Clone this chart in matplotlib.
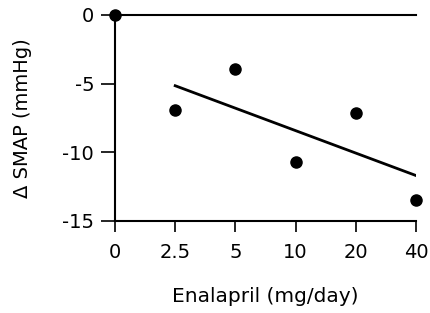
import numpy as np
import matplotlib
matplotlib.use("Agg")
import matplotlib.pyplot as plt

plt.rcParams['font.family'] = ['DejaVu Sans']
plt.rcParams['axes.unicode_minus'] = False

doses = ["0", "2.5", "5", "10", "20", "40"]
delta_smap = [0.0, -6.9, -3.9, -10.7, -7.15, -13.45]
yticks = [0, -5, -10, -15]
ytick_labels = ["0", "-5", "-10", "-15"]

fig = plt.figure(figsize=(4.31, 3.13), dpi=100)
ax = fig.add_axes([115/431, 1-221/313, (416-115)/431, (221-15)/313])

x = np.arange(len(doses))
ax.axhline(0, color='black', lw=1.5, zorder=2, clip_on=False)
ax.plot(x, delta_smap, 'o', color='black', ms=8, clip_on=False, zorder=4)

# regression line over the treated doses
xf = x[1:]
slope, intercept = np.polyfit(xf, delta_smap[1:], 1)
ax.plot([xf[0], xf[-1]], [slope*xf[0]+intercept, slope*xf[-1]+intercept],
        color='black', lw=2, zorder=3)

ax.set_xlim(0, len(doses)-1)
ax.set_ylim(-15, 0)
ax.set_xticks(x)
ax.set_xticklabels(doses, fontsize=14)
ax.set_yticks(yticks)
ax.set_yticklabels(ytick_labels, fontsize=14)
ax.spines['top'].set_visible(False)
ax.spines['right'].set_visible(False)
for s in ['left', 'bottom']:
    ax.spines[s].set_linewidth(1.5)
ax.tick_params(axis='y', length=10, width=1.2, pad=5)
ax.tick_params(axis='x', length=8, width=1.2, pad=8)

ax.set_xlabel("Enalapril (mg/day)", fontsize=14.5, labelpad=18)
ax.set_ylabel("\u0394 SMAP (mmHg)", fontsize=14)
ax.yaxis.set_label_coords((32-115)/301, 0.5)

fig.savefig("out.png", dpi=100)
